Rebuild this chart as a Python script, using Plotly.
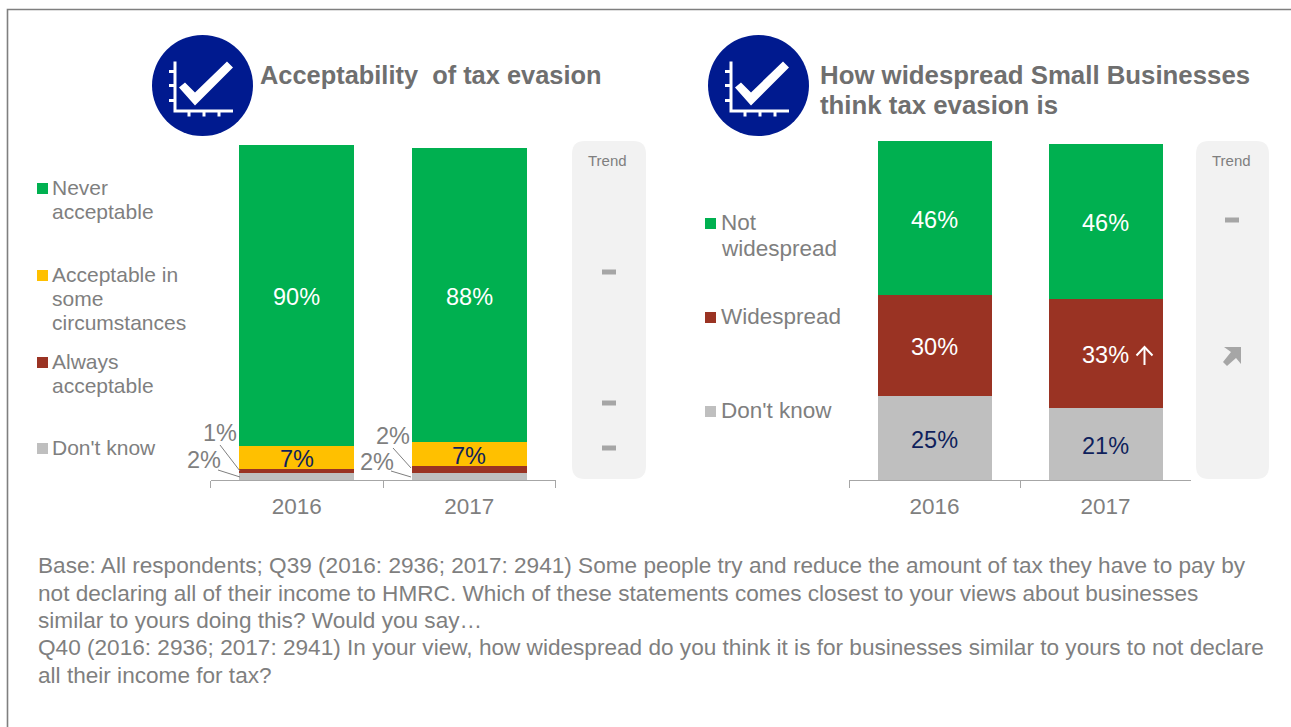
import plotly.graph_objects as go

W, H = 1291, 727
years = ["2016", "2017"]

left_names = ["Don't know", "Always acceptable", "Acceptable in some circumstances", "Never acceptable"]
left_dk = [2, 2]
left_always = [1.2, 2.2]
left_some = [7, 7]
left_never = [89.8, 87.8]

right_names = ["Don't know", "Widespread", "Not widespread"]
right_dk = [25, 21.4]
right_wide = [30, 32.6]
right_not = [46, 46]

GREEN, AMBER, RED, GREY = "#00b050", "#ffc000", "#9a3323", "#bfbfbf"
NAVY, TXT, DARK = "#001a8f", "#7f7f7f", "#0f1f5c"

footer_lines = [
    "Base: All respondents; Q39 (2016: 2936; 2017: 2941) Some people try and reduce the amount of tax they have to pay by",
    "not declaring all of their income to HMRC. Which of these statements comes closest to your views about businesses",
    "similar to yours doing this? Would you say…",
    "Q40 (2016: 2936; 2017: 2941) In your view, how widespread do you think it is for businesses similar to yours to not declare",
    "all their income for tax?",
]

def px(x): return x / W
def py(y): return 1 - y / H

fig = go.Figure()
FONT = "Liberation Sans, Arial, sans-serif"
shapes, ann = [], []

def stack(series, axis):
    base = [0, 0]
    for name, vals, color, label in series:
        fig.add_trace(go.Bar(
            x=years, y=vals, name=name, marker=dict(color=color, line=dict(width=0)),
            xaxis="x" + axis, yaxis="y" + axis, showlegend=False,
            hovertemplate="%{x}: %{y:.0f}%<extra>" + name + "</extra>",
        ))
        for i, v in enumerate(vals):
            if label:
                # category axes take the category's index as an annotation position
                ann.append(dict(xref="x" + axis, yref="y" + axis, x=i, y=base[i] + v / 2,
                                text=f"{round(v)}%", showarrow=False, yshift=-1.5,
                                font=dict(size=23.5, color=label, family=FONT)))
            base[i] += v

stack([(left_names[0], left_dk, GREY, None), (left_names[1], left_always, RED, None),
       (left_names[2], left_some, AMBER, DARK), (left_names[3], left_never, GREEN, "white")], "")
stack([(right_names[0], right_dk, GREY, DARK), (right_names[1], right_wide, RED, "white"),
       (right_names[2], right_not, GREEN, "white")], "2")

def rect(x0, y0, x1, y1, color, layer="above"):
    shapes.append(dict(type="rect", xref="paper", yref="paper", x0=px(x0), x1=px(x1),
                       y0=py(y1), y1=py(y0), fillcolor=color, line=dict(width=0), layer=layer))

def path(points, color=None, line=None, close=True, layer="above"):
    d = "M " + " L ".join(f"{px(a):.5f},{py(b):.5f}" for a, b in points) + (" Z" if close else "")
    shapes.append(dict(type="path", xref="paper", yref="paper", path=d, layer=layer,
                       fillcolor=color if color else "rgba(0,0,0,0)",
                       line=dict(width=line[1], color=line[0]) if line else dict(width=0)))

def text(x, y, s, size, color=TXT, anchor="left", bold=False):
    ann.append(dict(xref="paper", yref="paper", x=px(x - 2 if anchor == "left" else x), y=py(y),
                    text=f"<b>{s}</b>" if bold else s,
                    showarrow=False, xanchor=anchor, yanchor="middle", align="left",
                    font=dict(size=size, color=color, family=FONT)))

# frame
path([(7.5, 727), (7.5, 9.5), (1291, 9.5)], line=("#7f7f7f", 1.6), close=False)

# trend panels
def panel(x0, x1, y0=141, y1=479, r=13):
    d = (f"M {px(x0+r)},{py(y0)} L {px(x1-r)},{py(y0)} Q {px(x1)},{py(y0)} {px(x1)},{py(y0+r)} "
         f"L {px(x1)},{py(y1-r)} Q {px(x1)},{py(y1)} {px(x1-r)},{py(y1)} "
         f"L {px(x0+r)},{py(y1)} Q {px(x0)},{py(y1)} {px(x0)},{py(y1-r)} "
         f"L {px(x0)},{py(y0+r)} Q {px(x0)},{py(y0)} {px(x0+r)},{py(y0)} Z")
    shapes.append(dict(type="path", xref="paper", yref="paper", path=d, fillcolor="#f2f2f2",
                       line=dict(width=0), layer="below"))
panel(572, 646)
panel(1196, 1269)
text(607.5, 160.5, "Trend", 15, anchor="center")
text(1231.5, 160.5, "Trend", 15, anchor="center")
for cx, cy in [(609, 272), (609, 403), (609, 448), (1232, 220)]:
    rect(cx - 7, cy - 2.5, cx + 7, cy + 2.5, "#a6a6a6")
path([(1224, 347), (1241, 347), (1241, 364), (1236, 358), (1227, 366), (1223, 362), (1231, 352)], color="#a6a6a6")

# icons
def icon(cx, cy):
    shapes.append(dict(type="circle", xref="paper", yref="paper", x0=px(cx - 50.5), x1=px(cx + 50.5),
                       y0=py(cy + 50.5), y1=py(cy - 50.5), fillcolor=NAVY, line=dict(width=0)))
    path([(cx-27.5, cy-24), (cx-27.5, cy+25.5), (cx+30.5, cy+25.5)], line=("white", 3), close=False)
    for dy in (-14, 0, 15):
        rect(cx - 33.5, cy + dy - 1.5, cx - 28, cy + dy + 1.5, "white")
    for dx in (-13.5, 1.5, 16.5):
        rect(cx + dx - 1.5, cy + 26, cx + dx + 1.5, cy + 31, "white")
    path([(cx-23.5, cy+2), (cx-17.5, cy-3), (cx-7.5, cy+7), (cx+24.5, cy-24), (cx+30.5, cy-18), (cx-7.5, cy+20)], color="white")
icon(202.5, 85.5)
icon(758.5, 85.5)

text(260, 75, "Acceptability  of tax evasion", 25.4, bold=True, color="#6f6f6f")
text(820, 75.5, "How widespread Small Businesses", 25.8, bold=True, color="#6f6f6f")
text(820, 104.5, "think tax evasion is", 25.8, bold=True, color="#6f6f6f")

# legends
def legend(sx, tx, y, color, lines, step, size=20):
    rect(sx, y - 5, sx + 11, y + 6, color)
    for i, s in enumerate(lines):
        text(tx, y - 0.7 + i * step, s, size)

legend(37, 52, 188, GREEN, ["Never", "acceptable"], 24, 21)
legend(37, 52, 275, AMBER, ["Acceptable in", "some", "circumstances"], 24, 21)
legend(37, 52, 362, RED, ["Always", "acceptable"], 24, 21)
legend(37, 52, 448, GREY, ["Don't know"], 24, 21)
legend(705, 721, 223, GREEN, ["Not", "widespread"], 26, 22.5)
legend(705, 721, 317, RED, ["Widespread"], 26, 22.5)
legend(705, 721, 411, GREY, ["Don't know"], 26, 22.5)

# small labels and leaders
text(220, 432.5, "1%", 23.5, anchor="center")
text(204, 459.5, "2%", 23.5, anchor="center")
text(393, 435.5, "2%", 23.5, anchor="center")
text(377, 461.5, "2%", 23.5, anchor="center")
for pts in [[(220, 445), (240, 471)], [(218, 470), (240, 477)], [(393, 448), (411, 468)], [(391, 471), (411, 477)]]:
    path(pts, line=("#7f7f7f", 1), close=False)

# arrow next to 33%
path([(1144.5, 347), (1144.5, 365)], line=("white", 2), close=False)
path([(1136.5, 355.5), (1144.5, 347), (1152.5, 355.5)], line=("white", 2), close=False)

for i, s in enumerate(footer_lines):
    text(38, [565.5, 593.5, 620.5, 647, 675][i], s, 22.6)

def xaxis(a, b):
    return dict(domain=[px(a), px(b)], type="category", categoryorder="array", categoryarray=years,
                range=[-0.5, 1.5], tickson="boundaries", ticks="outside", ticklen=7,
                tickcolor="#a6a6a6", tickwidth=1, tickangle=0,
                showline=True, linecolor="#a6a6a6", linewidth=1, showgrid=False, zeroline=False,
                ticklabelstandoff=6,
                tickfont=dict(size=22.5, color=TXT, family=FONT), fixedrange=True)

def yaxis(anchor, top_px, top):
    return dict(domain=[py(480), py(top_px)], range=[0, top], visible=False, showgrid=False, anchor=anchor,
                fixedrange=True)

fig.update_layout(
    width=W, height=H, margin=dict(l=0, r=0, t=0, b=0), paper_bgcolor="white", plot_bgcolor="rgba(0,0,0,0)",
    barmode="stack", bargap=1/3, showlegend=False, shapes=shapes, annotations=ann,
    xaxis=xaxis(210.5, 555.5), yaxis=yaxis("x", 145, 100),
    xaxis2=dict(xaxis(849, 1191), anchor="y2"), yaxis2=yaxis("x2", 141, 101),
)
fig.write_html("out.html", config={"displayModeBar": False},
               post_script="document.body.style.margin='0';document.body.style.overflow='hidden';")
